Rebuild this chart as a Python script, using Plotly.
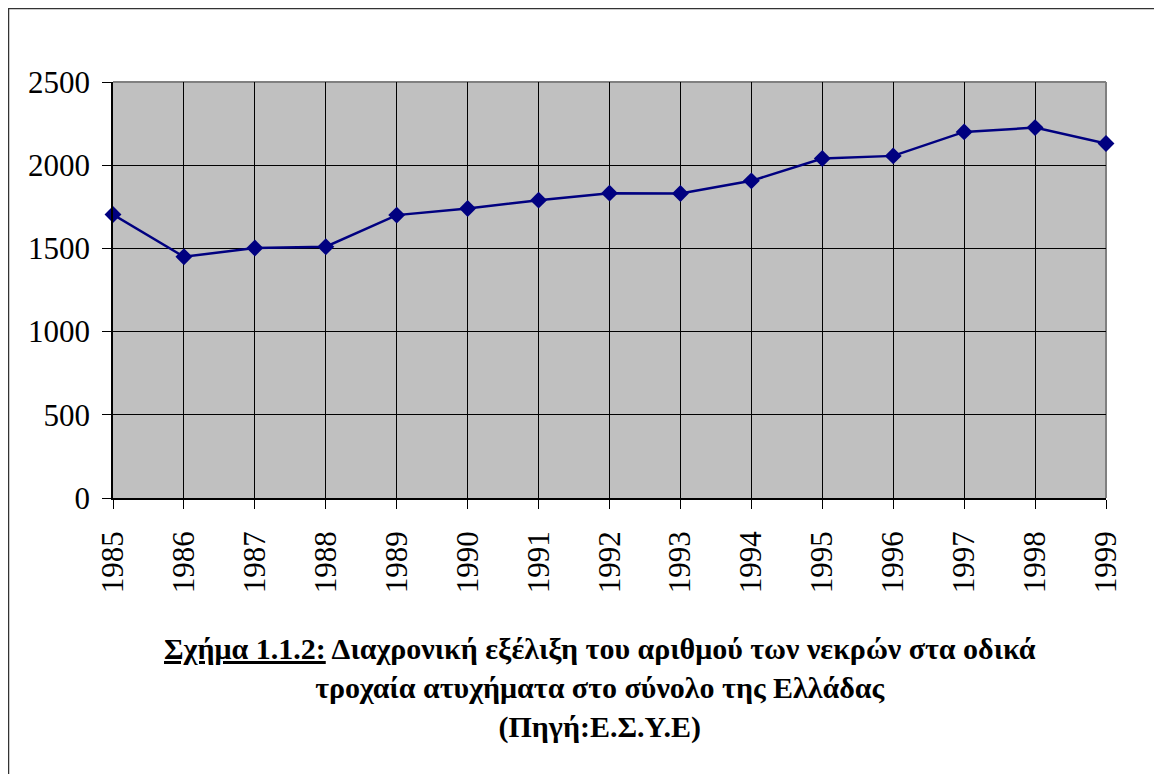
import plotly.graph_objects as go

years = ["1985", "1986", "1987", "1988", "1989", "1990", "1991", "1992",
         "1993", "1994", "1995", "1996", "1997", "1998", "1999"]
deaths = [1704, 1450, 1502, 1510, 1700, 1740, 1790, 1832,
          1830, 1906, 2040, 2056, 2200, 2226, 2130]
y_ticks = [0, 500, 1000, 1500, 2000, 2500]

OFF = 8  # page body margin
W, H = 1162, 774
SL, SR, ST, SB = 113, 1106, 82, 498
L, R, T, B = SL - OFF, SR - OFF, ST - OFF, SB - OFF

def px_x(x):
    return (x - OFF - L) / (R - L)

def px_y(y):
    return (B - (y - OFF)) / (B - T)

serif = "'Times New Roman', 'Liberation Serif', Tinos, serif"

fig = go.Figure()
fig.add_trace(go.Scatter(
    x=years, y=deaths, mode="lines+markers",
    line=dict(color="#000080", width=2.5),
    marker=dict(symbol="diamond", size=13, color="#000080"),
    cliponaxis=False, showlegend=False,
))

fig.update_layout(
    width=W, height=H,
    margin=dict(l=L, r=W - R, t=T, b=H - B, pad=0),
    paper_bgcolor="white", plot_bgcolor="#C0C0C0",
    font=dict(family=serif, color="black", size=31),
    xaxis=dict(
        type="category", range=[0, len(years) - 1],
        showgrid=True, gridcolor="black", gridwidth=1,
        showline=True, linecolor="black", linewidth=1.5,
        ticks="outside", ticklen=9, tickcolor="black", tickwidth=1,
        tickangle=-90, tickfont=dict(family=serif, size=31, color="black"),
        ticklabelstandoff=10, zeroline=False,
    ),
    yaxis=dict(
        range=[0, 2500], tickvals=y_ticks,
        showgrid=True, gridcolor="black", gridwidth=1,
        showline=True, linecolor="black", linewidth=1.5,
        ticks="outside", ticklen=9, tickcolor="black", tickwidth=1,
        tickfont=dict(family=serif, size=31, color="black"),
        ticklabelstandoff=6, zeroline=False,
    ),
    shapes=[
        dict(type="line", xref="paper", yref="paper", x0=0, x1=1, y0=1, y1=1,
             line=dict(color="#808080", width=2), layer="between"),
        dict(type="line", xref="paper", yref="paper", x0=1, x1=1, y0=0, y1=1,
             line=dict(color="#808080", width=2), layer="between"),
        dict(type="line", xref="paper", yref="paper",
             x0=px_x(8), x1=px_x(W + 40), y0=px_y(8.5), y1=px_y(8.5),
             line=dict(color="#333333", width=1.5)),
        dict(type="line", xref="paper", yref="paper",
             x0=px_x(8.5), x1=px_x(8.5), y0=px_y(8), y1=px_y(H + 40),
             line=dict(color="#333333", width=1.5)),
    ],
    annotations=[
        dict(
            xref="paper", yref="paper", x=px_x(600), y=px_y(688),
            xanchor="center", yanchor="middle", showarrow=False,
            align="center",
            text=("<b><u>Σχήμα 1.1.2:</u> Διαχρονική εξέλιξη του αριθμού των νεκρών στα οδικά"
                  "<br>τροχαία ατυχήματα στο σύνολο της Ελλάδας<br>(Πηγή:Ε.Σ.Υ.Ε)</b>"),
            font=dict(family=serif, size=30, color="black"),
        )
    ],
)

fig.write_html("out.html")
